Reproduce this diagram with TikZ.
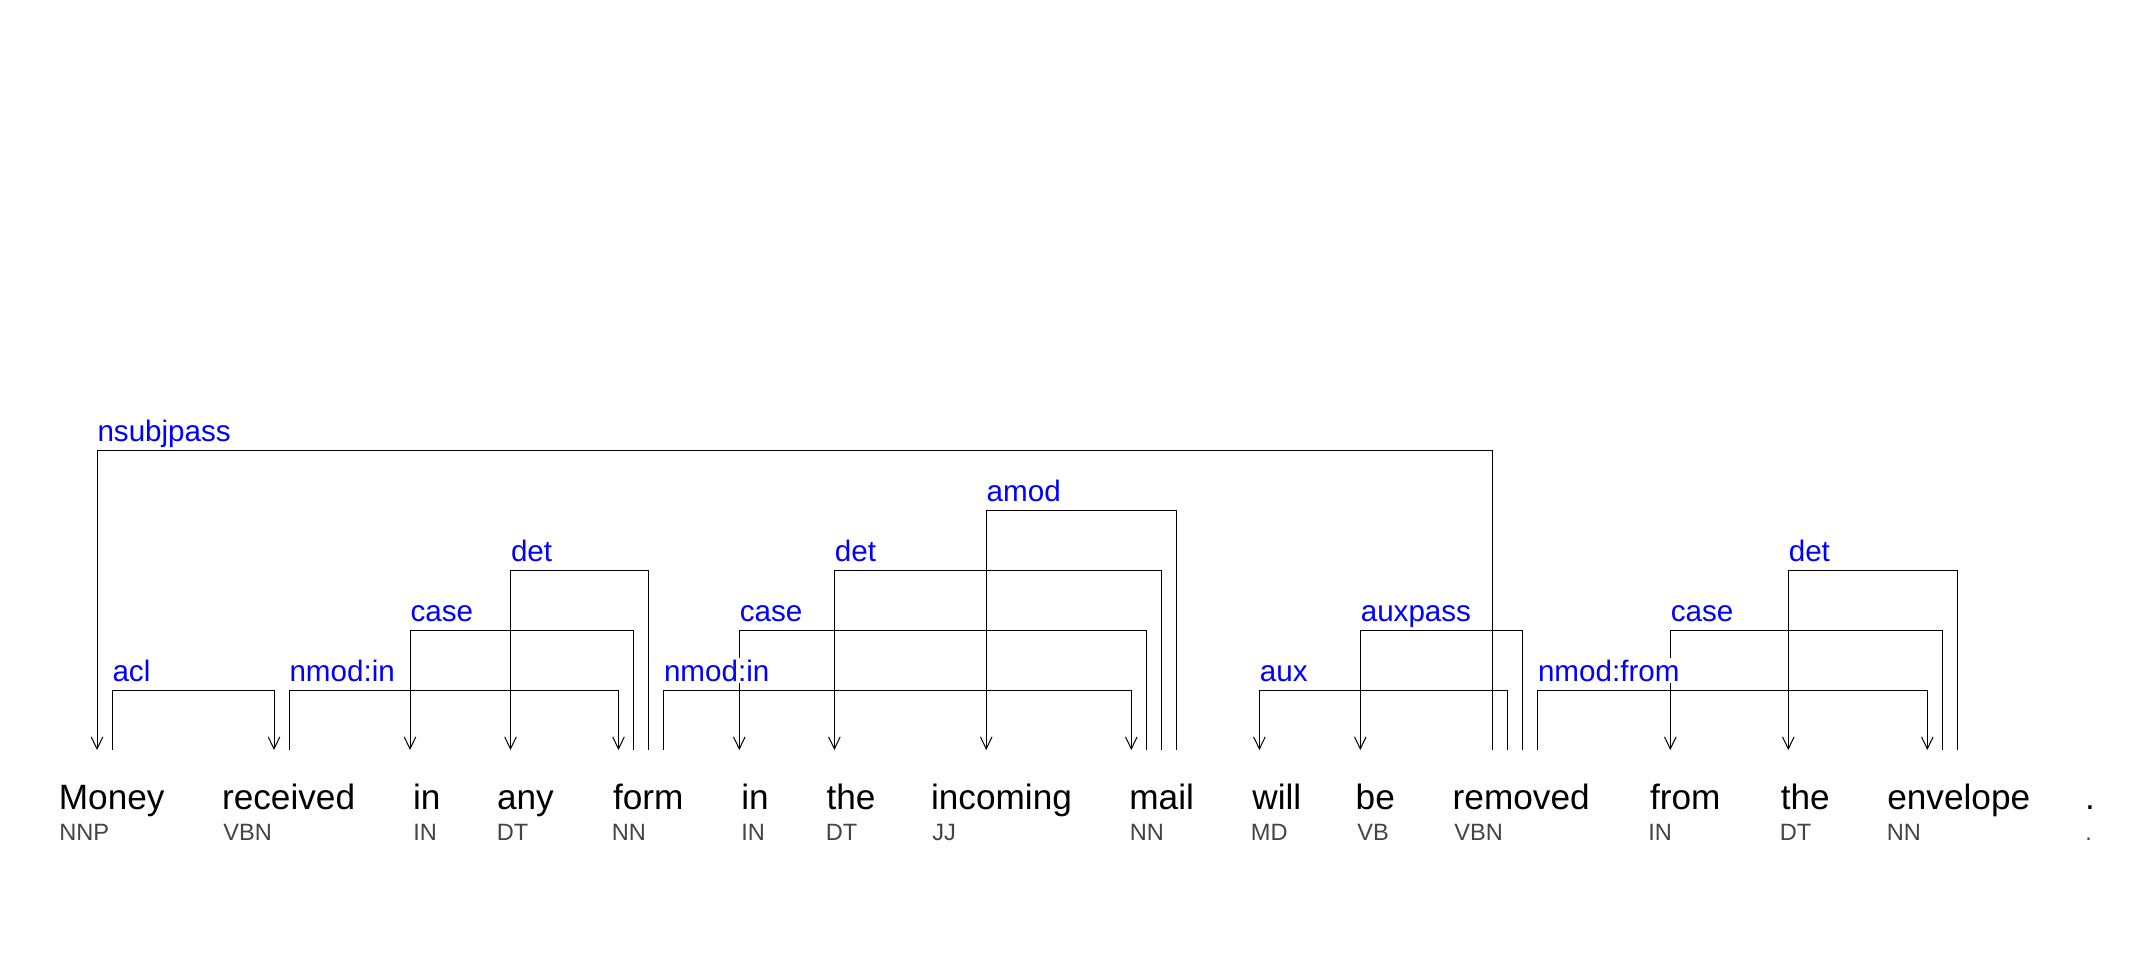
\documentclass[tikz,border=0pt]{standalone}
\usepackage{fontspec}
\setmainfont{Liberation Sans}
\usetikzlibrary{arrows.meta}
\definecolor{grigiotag}{RGB}{68,68,68}

\begin{document}
\begin{tikzpicture}[x=0.5pt, y=-0.5pt]
	% Stili per parole, etichette e archi
	\tikzset{
		parola/.style={anchor=base west, inner sep=0pt, font=\fontsize{17.6}{21}\selectfont},
		tag/.style={anchor=base west, inner sep=0pt, text=grigiotag, font=\fontsize{11.8}{14}\selectfont},
		etichetta/.style={anchor=base west, inner xsep=0pt, inner ysep=1pt, text depth=0pt, yshift=4.35pt, fill=white, text=blue, font=\fontsize{14.8}{17}\selectfont},
		arco/.style={line width=0.5pt},
		arco dx/.style={arco, -{Straight Barb[length=6pt, width=5.8pt]}},
		arco sx/.style={arco, {Straight Barb[length=6pt, width=5.8pt]}-}
	}
	\useasboundingbox (0,0) rectangle (2152,960);
	
	% Parole della frase
	\node[parola] (W_money)    at (58.5,809)  {Money};
	\node[parola] (W_received) at (221.7,809) {received};
	\node[parola] (W_ina)      at (412.7,809) {in};
	\node[parola] (W_any)      at (496.7,809) {any};
	\node[parola] (W_form)     at (612.7,809) {form};
	\node[parola] (W_inb)      at (741,809)   {in};
	\node[parola] (W_thea)     at (826.2,809) {the};
	\node[parola] (W_incoming) at (930.7,809) {incoming};
	\node[parola] (W_mail)     at (1129,809)  {mail};
	\node[parola] (W_will)     at (1252,809)  {will};
	\node[parola] (W_be)       at (1355.3,809) {be};
	\node[parola] (W_removed)  at (1452.3,809) {removed};
	\node[parola] (W_from)     at (1649.7,809) {from};
	\node[parola] (W_theb)     at (1780.4,809) {the};
	\node[parola] (W_envelope) at (1886.9,809) {envelope};
	\node[parola] (W_dot)      at (2084.7,809) {.};
	
	% Etichette grammaticali sotto le parole
	\node[tag] (T_money)    at (59,840)   {NNP};
	\node[tag] (T_received) at (223,840)  {VBN};
	\node[tag] (T_ina)      at (413,840)  {IN};
	\node[tag] (T_any)      at (496.5,840) {DT};
	\node[tag] (T_form)     at (611.5,840) {NN};
	\node[tag] (T_inb)      at (741,840)  {IN};
	\node[tag] (T_thea)     at (825.5,840) {DT};
	\node[tag] (T_incoming) at (932,840)  {JJ};
	\node[tag] (T_mail)     at (1129.5,840) {NN};
	\node[tag] (T_will)     at (1250.5,840) {MD};
	\node[tag] (T_be)       at (1357,840) {VB};
	\node[tag] (T_removed)  at (1454,840) {VBN};
	\node[tag] (T_from)     at (1648,840) {IN};
	\node[tag] (T_theb)     at (1779.5,840) {DT};
	\node[tag] (T_envelope) at (1886.5,840) {NN};
	\node[tag] (T_dot)      at (2085,840) {.};
	
	% Punti di attacco degli archi sopra le parole
	\coordinate (A_money_1)    at (97,750);
	\coordinate (A_money_2)    at (112,750);
	\coordinate (A_received_1) at (274,750);
	\coordinate (A_received_2) at (289,750);
	\coordinate (A_ina)        at (410,750);
	\coordinate (A_any)        at (510.5,750);
	\coordinate (A_form_1)     at (618.5,750);
	\coordinate (A_form_2)     at (633.3,750);
	\coordinate (A_form_3)     at (648,750);
	\coordinate (A_form_4)     at (663.5,750);
	\coordinate (A_inb)        at (739.3,750);
	\coordinate (A_thea)       at (834.4,750);
	\coordinate (A_incoming)   at (986.2,750);
	\coordinate (A_mail_1)     at (1131.3,750);
	\coordinate (A_mail_2)     at (1146.4,750);
	\coordinate (A_mail_3)     at (1161.6,750);
	\coordinate (A_mail_4)     at (1176.3,750);
	\coordinate (A_will)       at (1259.4,750);
	\coordinate (A_be)         at (1360.3,750);
	\coordinate (A_removed_1)  at (1492.3,750);
	\coordinate (A_removed_2)  at (1507.5,750);
	\coordinate (A_removed_3)  at (1522.3,750);
	\coordinate (A_removed_4)  at (1537.5,750);
	\coordinate (A_from)       at (1670.3,750);
	\coordinate (A_theb)       at (1788.3,750);
	\coordinate (A_envelope_1) at (1927.3,750);
	\coordinate (A_envelope_2) at (1942.3,750);
	\coordinate (A_envelope_3) at (1957.5,750);
	
	% Archi di Money e received
	\draw[arco dx] (A_money_2) -- ++(0,-60) node[etichetta] {acl} -| (A_received_1);
	\draw[arco dx] (A_received_2) -- ++(0,-60) node[etichetta] {nmod:in} -| (A_form_1);
	
	% Archi di form
	\draw[arco sx] (A_ina) -- ++(0,-120) node[etichetta] {case} -| (A_form_2);
	\draw[arco sx] (A_any) -- ++(0,-180) node[etichetta] {det} -| (A_form_3);
	
	% Archi di mail
	\draw[arco sx] (A_inb) -- ++(0,-120) node[etichetta] {case} -| (A_mail_2);
	\draw[arco sx] (A_thea) -- ++(0,-180) node[etichetta] {det} -| (A_mail_3);
	\draw[arco sx] (A_incoming) -- ++(0,-240) node[etichetta] {amod} -| (A_mail_4);
	\draw[arco dx] (A_form_4) -- ++(0,-60) node[etichetta] {nmod:in} -| (A_mail_1);
	
	% Archi di removed
	\draw[arco sx] (A_money_1) -- ++(0,-300) node[etichetta] {nsubjpass} -| (A_removed_1);
	\draw[arco sx] (A_will) -- ++(0,-60) node[etichetta] {aux} -| (A_removed_2);
	\draw[arco sx] (A_be) -- ++(0,-120) node[etichetta] {auxpass} -| (A_removed_3);
	
	% Archi di envelope
	\draw[arco sx] (A_from) -- ++(0,-120) node[etichetta] {case} -| (A_envelope_2);
	\draw[arco sx] (A_theb) -- ++(0,-180) node[etichetta] {det} -| (A_envelope_3);
	\draw[arco dx] (A_removed_4) -- ++(0,-60) node[etichetta] {nmod:from} -| (A_envelope_1);
	
\end{tikzpicture}
\end{document}
